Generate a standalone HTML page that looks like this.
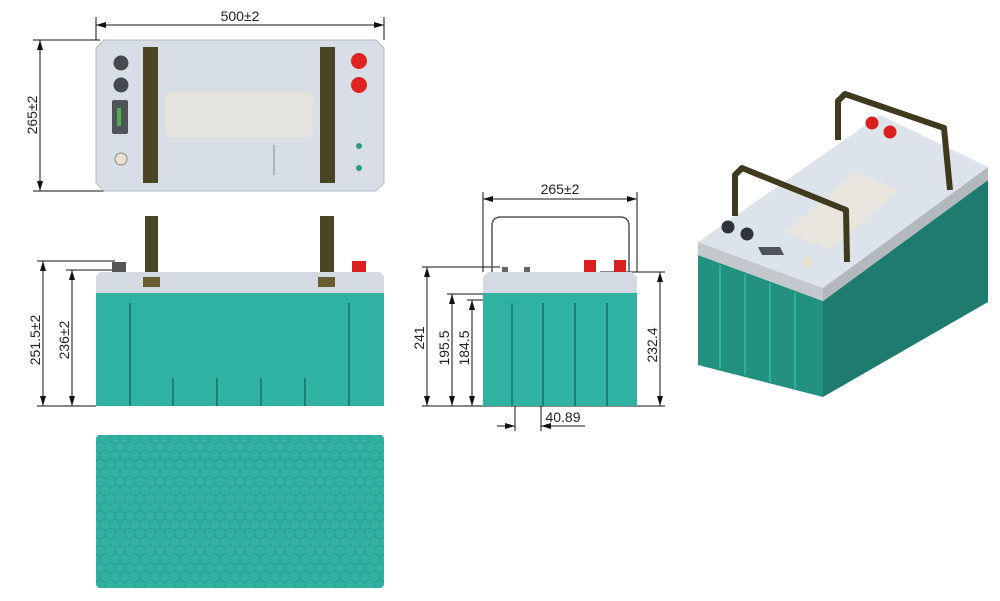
<!DOCTYPE html>
<html><head><meta charset="utf-8"><style>
html,body{margin:0;padding:0;background:#fff;}
svg{display:block;font-family:"Liberation Sans",sans-serif;}
</style></head><body>
<svg width="1000" height="601" viewBox="0 0 1000 601" xmlns="http://www.w3.org/2000/svg">
<defs>
<marker id="a" viewBox="0 0 10 6" refX="10" refY="3" markerWidth="10" markerHeight="6" orient="auto-start-reverse" markerUnits="userSpaceOnUse"><path d="M0,0L10,3L0,6z" fill="#111"/></marker>
<pattern id="hex" width="10" height="17.3" patternUnits="userSpaceOnUse">
<path d="M0,2.9 L5,0 L10,2.9 M0,2.9 L0,8.7 L5,11.5 L10,8.7 L10,2.9 M5,11.5 L5,17.3" fill="none" stroke="#279888" stroke-width="0.8"/>
</pattern>
</defs>
<g stroke="#111" stroke-width="1" fill="none">
<line x1="96" y1="17" x2="96" y2="40"/><line x1="384" y1="17" x2="384" y2="40"/>
<line x1="96" y1="25" x2="384" y2="25" marker-start="url(#a)" marker-end="url(#a)"/>
<line x1="33" y1="40" x2="100" y2="40"/><line x1="33" y1="191" x2="110" y2="191"/>
<line x1="40" y1="40" x2="40" y2="191" marker-start="url(#a)" marker-end="url(#a)"/>
<line x1="37" y1="261" x2="115" y2="261"/><line x1="66" y1="270" x2="112" y2="270"/>
<line x1="37" y1="406" x2="96" y2="406"/>
<line x1="43" y1="261" x2="43" y2="406" marker-start="url(#a)" marker-end="url(#a)"/>
<line x1="72" y1="270" x2="72" y2="406" marker-start="url(#a)" marker-end="url(#a)"/>
<line x1="483" y1="192" x2="483" y2="272"/><line x1="637" y1="192" x2="637" y2="272"/>
<line x1="483" y1="199" x2="637" y2="199" marker-start="url(#a)" marker-end="url(#a)"/>
<line x1="422" y1="267" x2="500" y2="267"/><line x1="447" y1="294" x2="483" y2="294"/>
<polyline points="467,300 510,300 512,304"/>
<line x1="422" y1="406" x2="665" y2="406"/><line x1="600" y1="272" x2="665" y2="272"/>
<line x1="427" y1="267" x2="427" y2="406" marker-start="url(#a)" marker-end="url(#a)"/>
<line x1="452" y1="294" x2="452" y2="406" marker-start="url(#a)" marker-end="url(#a)"/>
<line x1="472" y1="300" x2="472" y2="406" marker-start="url(#a)" marker-end="url(#a)"/>
<line x1="660" y1="272" x2="660" y2="406" marker-start="url(#a)" marker-end="url(#a)"/>
<line x1="515" y1="406" x2="515" y2="431"/><line x1="541" y1="406" x2="541" y2="431"/>
<line x1="497" y1="426" x2="515" y2="426" marker-end="url(#a)"/>
<line x1="585" y1="426" x2="541" y2="426" marker-end="url(#a)"/>
</g>
<g fill="#222" font-size="14">
<text x="240" y="21" text-anchor="middle">500±2</text>
<text transform="translate(37,115) rotate(-90)" text-anchor="middle">265±2</text>
<text transform="translate(40,340) rotate(-90)" text-anchor="middle">251.5±2</text>
<text transform="translate(69,340) rotate(-90)" text-anchor="middle">236±2</text>
<text x="560" y="194" text-anchor="middle">265±2</text>
<text transform="translate(424,338) rotate(-90)" text-anchor="middle">241</text>
<text transform="translate(449,348) rotate(-90)" text-anchor="middle">195.5</text>
<text transform="translate(469,348) rotate(-90)" text-anchor="middle">184.5</text>
<text transform="translate(657,345) rotate(-90)" text-anchor="middle">232.4</text>
<text x="563" y="422" text-anchor="middle">40.89</text>
</g>
<!-- top view -->
<path d="M104,40 H376 L384,48 V183 L376,191 H104 L96,183 V48 Z" fill="#d8dee5" stroke="#b5bcc4"/>
<rect x="165" y="93" width="148" height="44" rx="6" fill="#e6e4df"/>
<line x1="274" y1="145" x2="274" y2="175" stroke="#888"/>
<rect x="143" y="47" width="15" height="136" fill="#4a4524"/>
<rect x="320" y="47" width="15" height="136" fill="#4a4524"/>
<circle cx="121" cy="63" r="7.5" fill="#454a4e"/><circle cx="121" cy="85" r="7.5" fill="#454a4e"/>
<rect x="112" y="100" width="16" height="34" rx="2" fill="#4e5458"/>
<rect x="117" y="108" width="4" height="18" fill="#4ab24a"/>
<circle cx="121" cy="159" r="6" fill="#e8e2d0" stroke="#888"/>
<circle cx="359" cy="61" r="8" fill="#e02424"/><circle cx="359" cy="85" r="8" fill="#e02424"/>
<circle cx="359" cy="146" r="3" fill="#2a9a8a"/><circle cx="359" cy="168" r="3" fill="#2a9a8a"/>
<!-- front view -->
<rect x="145" y="216" width="13" height="57" fill="#4a4524"/>
<rect x="320" y="216" width="14" height="57" fill="#4a4524"/>
<rect x="352" y="261" width="14" height="11" fill="#d82020"/>
<rect x="112" y="262" width="14" height="10" fill="#555"/>
<path d="M100,272 H380 L384,276 V293 H96 V276 Z" fill="#d4dae1"/>
<rect x="143" y="277" width="17" height="10" fill="#6a5e30"/>
<rect x="318" y="277" width="17" height="10" fill="#6a5e30"/>
<rect x="96" y="293" width="288" height="113" fill="#30b2a2"/>
<g fill="none" stroke="#1f7e72" stroke-width="2">
<path d="M130,406 V303"/><path d="M349,406 V303"/>
<path d="M173,406 V378"/><path d="M217,406 V378"/><path d="M261,406 V378"/><path d="M305,406 V378"/>
</g>
<!-- bottom view -->
<rect x="96" y="435" width="288" height="153" rx="4" fill="#31b1a1"/>
<rect x="96" y="435" width="288" height="153" rx="4" fill="url(#hex)"/>
<!-- side view -->
<path d="M492,272 V226 Q492,217 501,217 H620 Q629,217 629,226 V272" fill="none" stroke="#555" stroke-width="1.5"/>
<rect x="584" y="260" width="12" height="12" fill="#d82020"/><rect x="614" y="260" width="12" height="12" fill="#d82020"/>
<rect x="502" y="267" width="6" height="5" fill="#666"/><rect x="524" y="267" width="6" height="5" fill="#666"/>
<path d="M488,272 H632 L637,277 V293 H483 V277 Z" fill="#d4dae1"/>
<rect x="483" y="293" width="154" height="113" fill="#30b2a2"/>
<g fill="none" stroke="#1f7e72" stroke-width="2">
<path d="M512,406 V303"/><path d="M543,406 V303"/><path d="M575,406 V303"/><path d="M607,406 V303"/>
</g>
<!-- iso view -->
<polygon points="698,255 823,301 823,397 698,365" fill="#23917f"/>
<polygon points="823,301 988,180 988,302 823,397" fill="#1d7c6e"/>
<g stroke="#34ad9a" stroke-width="2">
<line x1="720" y1="265" x2="720" y2="368"/><line x1="745" y1="274" x2="745" y2="375"/><line x1="770" y1="283" x2="770" y2="382"/><line x1="795" y1="292" x2="795" y2="389"/>
</g>
<polygon points="698,242 823,288 823,301 698,255" fill="#c3c8cd"/>
<polygon points="823,288 988,167 988,180 823,301" fill="#b3b8bd"/>
<polygon points="698,242 823,288 988,167 880,115" fill="#dde3ea"/>
<polygon points="785,232 830,250 900,190 855,172" fill="#e8e5de"/>
<polyline points="735,216 735,175 742,168 846,210 847,262" fill="none" stroke="#3f3a1e" stroke-width="6" stroke-linejoin="round"/>
<polyline points="838,140 838,101 845,94 944,128 950,190" fill="none" stroke="#3f3a1e" stroke-width="6" stroke-linejoin="round"/>
<circle cx="872" cy="123" r="6.5" fill="#d82020"/><circle cx="890" cy="132" r="6.5" fill="#d82020"/>
<circle cx="728" cy="227" r="6.5" fill="#2f3438"/><circle cx="747" cy="234" r="6.5" fill="#2f3438"/>
<polygon points="758,247 780,247 784,255 762,255" fill="#4e5458"/>
<circle cx="807" cy="262" r="5" fill="#e8e2d0"/>
</svg>
</body></html>
